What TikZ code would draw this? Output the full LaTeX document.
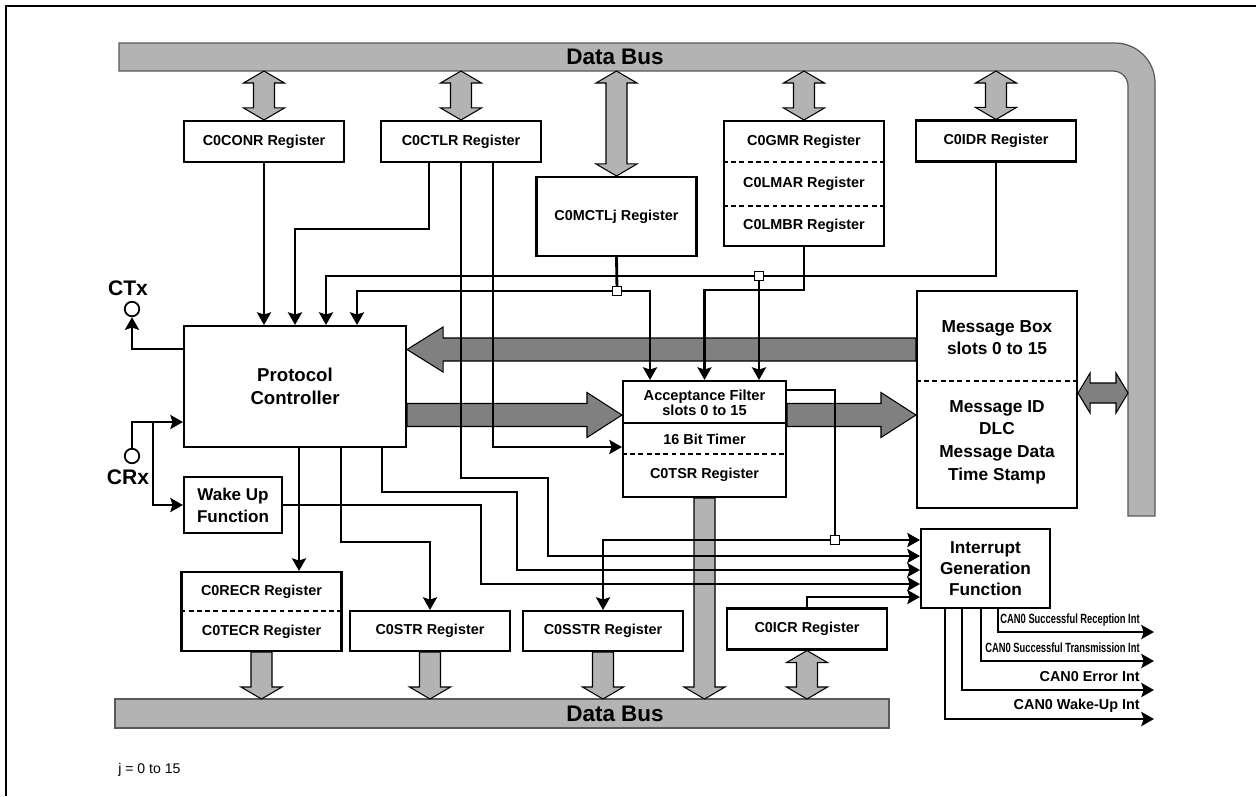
\documentclass[tikz,border=0pt]{standalone}
\usepackage{fontspec}
\setmainfont{Liberation Sans}
\newfontfamily\narrowsans{Liberation Sans}[FakeStretch=0.7]
\usetikzlibrary{arrows.meta,calc,backgrounds}

\definecolor{busgray}{HTML}{B3B3B3}
\definecolor{flowgray}{HTML}{808080}

% bus arrow with two heads: #1 upper tip, #2 lower tip
\newcommand{\busdouble}[2]{%
  \draw[busarrow] (#1) -- ++(20.5,12) -- ++(-10,0) -- ($(#2)+(10.5,-12)$)
    -- ++(10,0) -- (#2) -- ++(-20.5,-12) -- ++(10,0) -- ($(#1)+(-10.5,12)$)
    -- ++(-10,0) -- cycle;}
% bus arrow pointing down: #1 top end, #2 tip
\newcommand{\busdown}[2]{%
  \draw[busarrow] ($(#1)+(-10.5,0)$) -- ($(#2)+(-10.5,-12)$) -- ++(-10,0) -- (#2)
    -- ++(20.5,-12) -- ++(-10,0) -- ($(#1)+(10.5,0)$) -- cycle;}

\tikzset{
  reg/.style = {rectangle,
      draw = black,
      line width = 1.2pt,
      fill = white,
      inner sep = 0pt,
      align = center,
      font = \fontsize{8.2}{9}\selectfont\bfseries,
      minimum width = 3.2cm,
      minimum height = 0.82cm},
  txt/.style = {inner sep = 0pt, align = center,
      font = \fontsize{8.2}{9}\selectfont\bfseries},
  sep/.style = {line width = 0.9pt, dash pattern = on 2.8pt off 1.9pt},
  plain/.style = {line width = 1.6pt},
  wire/.style = {line width = 1.6pt,
      -{Stealth[length = 7.2pt, width = 8pt, inset = 1.3pt]}},
  junction/.style = {rectangle, draw = black, fill = white,
      line width = 0.8pt, inner sep = 0pt, minimum size = 0.18cm},
  pin/.style = {circle, draw = black, fill = white,
      line width = 1pt, inner sep = 0pt, minimum size = 0.29cm},
  pinlabel/.style = {inner sep = 0pt, font = \fontsize{12}{13}\selectfont\bfseries},
  bus/.style = {draw = black!65, line width = 0.7pt, fill = busgray},
  busarrow/.style = {draw = black, line width = 0.6pt, fill = busgray},
  flowarrow/.style = {draw = black, line width = 0.6pt, fill = flowgray},
  buslabel/.style = {inner sep = 0pt, font = \fontsize{12.8}{14}\selectfont\bfseries},
  intlabel/.style = {inner sep = 0pt, anchor = east,
      font = \fontsize{8.2}{9}\selectfont\bfseries},
  intnarrow/.style = {intlabel, font = \fontsize{7.6}{9}\narrowsans\bfseries},
  note/.style = {inner sep = 0pt, anchor = west, font = \fontsize{8}{10}\selectfont},
}

\begin{document}
\begin{tikzpicture}[x = 0.02cm, y = -0.02cm]
\useasboundingbox (0,0) rectangle (1256,796);

% registers on the upper bus
\node[reg] (conr) at (264,141.5) {C0CONR Register};
\node[reg] (ctlr) at (461,141.5) {C0CTLR Register};
\node[reg, minimum height = 1.58cm] (mctl) at (616.5,216.5) {C0MCTLj Register};
\node[reg, minimum height = 2.5cm] (gmr) at (804,183.5) {};
\node[txt] (gmrtext) at (804,142) {C0GMR Register};
\node[txt] (lmartext) at (804,184) {C0LMAR Register};
\node[txt] (lmbrtext) at (804,226) {C0LMBR Register};
\draw[sep] (gmr.west |- 0,162) -- (gmr.east |- 0,162);
\draw[sep] (gmr.west |- 0,206) -- (gmr.east |- 0,206);
\node[reg] (idr) at (996,141) {C0IDR Register};

% message box
\node[reg, minimum height = 4.34cm] (msg) at (997,399.5) {};
\node[txt, font = \fontsize{9.85}{12.5}\selectfont\bfseries] (msgtop) at (997,338)
  {Message Box\\slots 0 to 15};
\node[txt, font = \fontsize{9.85}{12.9}\selectfont\bfseries] (msgbot) at (997,442)
  {Message ID\\DLC\\Message Data\\Time Stamp};
\draw[sep] (msg.west |- 0,381) -- (msg.east |- 0,381);

% protocol controller and wake up
\node[reg,
    minimum width = 4.44cm,
    minimum height = 2.42cm,
    font = \fontsize{10.6}{13}\selectfont\bfseries] (pc) at (295,386.5) {Protocol\\Controller};
\node[reg,
    minimum width = 1.96cm,
    minimum height = 1.12cm,
    font = \fontsize{9.7}{12.5}\selectfont\bfseries] (wake) at (233,505) {Wake Up\\Function};

% acceptance filter
\node[reg, minimum width = 3.26cm, minimum height = 2.32cm] (af) at (704.5,439) {};
\draw[line width = 1.2pt] (af.west |- 0,423) -- (af.east |- 0,423);
\draw[sep] (af.west |- 0,454) -- (af.east |- 0,454);
\node[txt, font = \fontsize{8.3}{8.7}\selectfont\bfseries] (filtertext) at (704.5,403)
  {Acceptance Filter\\slots 0 to 15};
\node[txt] (timertext) at (704.5,439) {16 Bit Timer};
\node[txt] (tsrtext) at (704.5,474.5) {C0TSR Register};

% registers on the lower bus
\node[reg, minimum height = 1.58cm] (ecr) at (261.5,611.5) {};
\node[txt] (recrtext) at (261.5,592) {C0RECR Register};
\node[txt] (tecrtext) at (261.5,632) {C0TECR Register};
\draw[sep] (ecr.west |- 0,611) -- (ecr.east |- 0,611);
\node[reg, minimum height = 0.8cm] (str) at (430,631) {C0STR Register};
\node[reg, minimum height = 0.8cm] (sstr) at (603,631) {C0SSTR Register};
\node[reg] (icr) at (807,629) {C0ICR Register};

% interrupt generation
\node[reg,
    minimum width = 2.58cm,
    minimum height = 1.58cm,
    font = \fontsize{9.8}{11.9}\selectfont\bfseries] (intr) at (985.5,568.5) {Interrupt\\Generation\\Function};

% pins
\node[pin] (ctx) at (132,309) {};
\node[pin] (crx) at (132,456) {};
\node[pinlabel] (ctxlabel) at (128,288) {CTx};
\node[pinlabel] (crxlabel) at (128,477) {CRx};

% bus labels and note
\coordinate (tbus) at (0,71);
\coordinate (bbus) at (0,699);
\coordinate (rbus) at (1128,0);
\node[buslabel] (tbuslabel) at (615,57) {Data Bus};
\node[buslabel] (bbuslabel) at (615,714) {Data Bus};
\node[note] (jnote) at (118,770) {j = 0 to 15};

% interrupt outputs
\coordinate (intout) at (1154,0);
\node[intnarrow] (rxint) at (1140,620) {CAN0 Successful Reception Int};
\node[intnarrow] (txint) at (1140,648) {CAN0 Successful Transmission Int};
\node[intlabel] (errint) at (1140,677) {CAN0 Error Int};
\node[intlabel] (wupint) at (1140,706) {CAN0 Wake-Up Int};

\begin{pgfonlayer}{background}
  % frame
  \draw[line width = 1.1pt] (6,796) -- (6,6) -- (1256,6);
  % data bus
  \draw[bus] (119,43) -- (1115,43) arc[start angle = -90, end angle = 0, radius = 40]
    -- (1155,516) -- (1128,516) -- (1128,86) arc[start angle = 0, end angle = -90, radius = 15]
    -- (119,71) -- cycle;
  \draw[bus] (115,699) rectangle (889,728);
  % bus arrows
  \busdouble{conr.north |- tbus}{conr.north}
  \busdouble{ctlr.north |- tbus}{ctlr.north}
  \busdouble{mctl.north |- tbus}{mctl.north}
  \busdouble{gmr.north |- tbus}{gmr.north}
  \busdouble{idr.north |- tbus}{idr.north}
  \busdouble{icr.south}{icr.south |- bbus}
  \busdown{ecr.south}{ecr.south |- bbus}
  \busdown{str.south}{str.south |- bbus}
  \busdown{sstr.south}{sstr.south |- bbus}
  \busdown{af.south}{af.south |- bbus}
  % message paths
  \draw[flowarrow] ($(msg.west |- 0,349.5)+(0,-11.5)$) -- ($(pc.east |- 0,349.5)+(36,-11.5)$)
    -- ++(0,-11) -- (pc.east |- 0,349.5) -- ++(36,22.5) -- ++(0,-11)
    -- ($(msg.west |- 0,349.5)+(0,11.5)$) -- cycle;
  \draw[flowarrow] ($(pc.east |- 0,415)+(0,-11.5)$) -- ($(af.west |- 0,415)+(-35,-11.5)$)
    -- ++(0,-11) -- (af.west |- 0,415) -- ++(-35,22.5) -- ++(0,-11)
    -- ($(pc.east |- 0,415)+(0,11.5)$) -- cycle;
  \draw[flowarrow] ($(af.east |- 0,415)+(0,-11.5)$) -- ($(msg.west |- 0,415)+(-35,-11.5)$)
    -- ++(0,-11) -- (msg.west |- 0,415) -- ++(-35,22.5) -- ++(0,-11)
    -- ($(af.east |- 0,415)+(0,11.5)$) -- cycle;
  \draw[flowarrow] (msg.east |- 0,393) -- ++(12,-20) -- ++(0,10) -- ($(rbus |- 0,393)+(-12,-10)$)
    -- ++(0,-10) -- (rbus |- 0,393) -- ++(-12,20) -- ++(0,-10)
    -- ($(msg.east |- 0,393)+(12,10)$) -- ++(0,10) -- cycle;
\end{pgfonlayer}

% junction points
\coordinate (jidr) at (759,276);
\coordinate (jmctl) at (617,291);
\coordinate (jaf) at (835,540);
\coordinate (rxtap) at (153,422);

% into the protocol controller
\draw[wire] (conr.south) -- (conr.south |- pc.north);
\draw[wire] (ctlr.south -| 429,0) |- (pc.north |- 0,229) -- (pc.north);
\draw[wire] (idr.south) |- (326,276) -- (326,0 |- pc.north);
\draw[plain] (mctl.south) -- (jmctl);
\draw[wire] (jmctl) -| (357,0 |- pc.north);

% into the acceptance filter
\draw[wire] (jmctl) -| (650,0 |- af.north);
\draw[wire] (gmr.south) |- (af.north |- 0,290) -- (af.north);
\draw[wire] (jidr) -- (jidr |- af.north);
\draw[wire] (ctlr.south -| 493,0) |- (af.west |- 0,447);

% into the interrupt generation
\draw[wire] (af.east |- 0,390) -| (jaf) -- (intr.west |- jaf);
\draw[wire] (jaf) -| (sstr.north);
\draw[wire] (ctlr.south) |- (548,478) |- (intr.west |- 0,556);
\draw[wire] (pc.south -| 382,0) |- (517,492) |- (intr.west |- 0,570);
\draw[wire] (wake.east) -| (481,584) -- (intr.west |- 0,584);
\draw[wire] (icr.north) |- (intr.west |- 0,597);

% out of the protocol controller
\draw[wire] (pc.south -| 299,0) -- (299,0 |- ecr.north);
\draw[wire] (pc.south -| 341,0) |- (str.north |- 0,542) -- (str.north);

% pins
\draw[wire] (pc.west |- 0,349) -| (ctx.south);
\draw[wire] (crx.north) |- (pc.west |- 0,422);
\draw[wire] (rxtap) |- (wake.west);

% interrupt requests
\draw[wire] (intr.south -| 998,0) |- (intout |- 0,632);
\draw[wire] (intr.south -| 981,0) |- (intout |- 0,661);
\draw[wire] (intr.south -| 962,0) |- (intout |- 0,690);
\draw[wire] (intr.south -| 945,0) |- (intout |- 0,719);

\node[junction] (jidrbox) at (jidr) {};
\node[junction] (jmctlbox) at (jmctl) {};
\node[junction] (jafbox) at (jaf) {};
\end{tikzpicture}
\end{document}
